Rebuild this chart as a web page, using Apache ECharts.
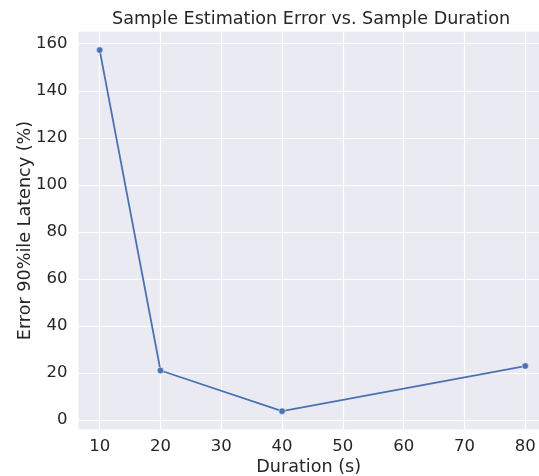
<!DOCTYPE html>
<html>
<head>
<meta charset="utf-8">
<script src="https://cdn.jsdelivr.net/npm/echarts@6/dist/echarts.min.js"></script>
<style>
html,body{margin:0;padding:0;background:#fff;}
#chart{width:539px;height:476px;}
</style>
</head>
<body>
<div id="chart"></div>
<script>
const durations = [10, 20, 40, 80];
const errors = [157.3, 21.1, 3.8, 23.0];
const xTicks = [10, 20, 30, 40, 50, 60, 70, 80];
const yTicks = [0, 20, 40, 60, 80, 100, 120, 140, 160];

const chart = echarts.init(document.getElementById('chart'), null, {renderer: 'canvas'});
const textColor = '#262626';
const font = 'DejaVu Sans';

chart.setOption({
  backgroundColor: '#ffffff',
  animation: false,
  title: {
    text: 'Sample Estimation Error vs. Sample Duration',
    left: 112, top: 10, padding: 0,
    textStyle: {fontFamily: font, fontSize: 17.6, fontWeight: 'normal', color: textColor}
  },
  grid: {left: 78.4, right: 0, top: 31.7, bottom: 46.7, show: true, backgroundColor: '#EAEAF2', borderWidth: 0,
         outerBoundsMode: 'none', containLabel: false},
  xAxis: {
    type: 'value', min: 6.5, max: 82.26,
    name: 'Duration (s)', nameLocation: 'middle', nameGap: 29, nameMoveOverlap: false,
    nameTextStyle: {fontFamily: font, fontSize: 17.6, color: textColor},
    axisLine: {show: false}, axisTick: {show: false, customValues: xTicks},
    axisLabel: {customValues: xTicks, fontFamily: font, fontSize: 16.5, color: textColor, margin: 9},
    splitLine: {show: true, lineStyle: {color: '#ffffff', width: 1.2}}
  },
  yAxis: {
    type: 'value', min: -3.9, max: 165.1,
    name: 'Error 90%ile Latency (%)', nameLocation: 'middle', nameGap: 44, nameMoveOverlap: false,
    nameTextStyle: {fontFamily: font, fontSize: 17.6, color: textColor},
    axisLine: {show: false}, axisTick: {show: false, customValues: yTicks},
    axisLabel: {customValues: yTicks, fontFamily: font, fontSize: 16.5, color: textColor, margin: 11},
    splitLine: {show: true, lineStyle: {color: '#ffffff', width: 1.2}}
  },
  series: [{
    type: 'line',
    data: durations.map((d, i) => [d, errors[i]]),
    symbol: 'circle', symbolSize: 6.5,
    itemStyle: {color: '#4C72B0', borderColor: '#ffffff', borderWidth: 0.5},
    lineStyle: {color: '#4C72B0', width: 1.8},
    showAllSymbol: true
  }]
});
</script>
</body>
</html>
